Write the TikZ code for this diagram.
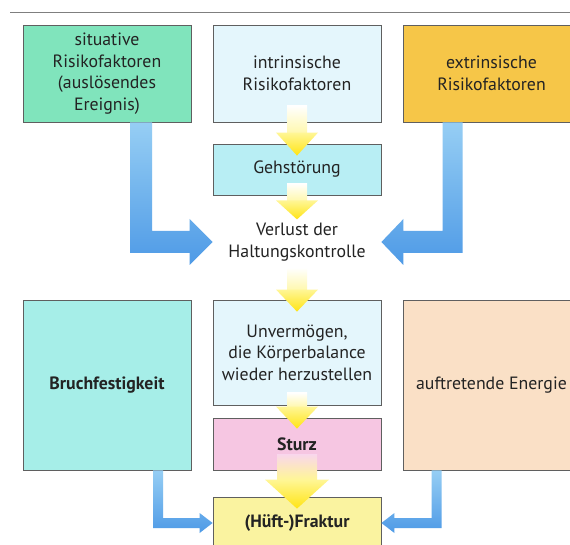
\documentclass[tikz,border=0pt]{standalone}
\usepackage{fontspec}
\setmainfont{PT Sans}
\usetikzlibrary{calc}
\definecolor{boxline}{RGB}{95,95,95}
\definecolor{txt}{RGB}{35,35,35}
\definecolor{sitgreen}{RGB}{128,228,188}
\definecolor{intrblue}{RGB}{228,246,252}
\definecolor{extrorange}{RGB}{246,198,72}
\definecolor{gehcyan}{RGB}{184,238,244}
\definecolor{bruchcyan}{RGB}{166,238,232}
\definecolor{sturzpink}{RGB}{246,198,226}
\definecolor{energiepeach}{RGB}{250,224,198}
\definecolor{frakyellow}{RGB}{250,243,160}
\definecolor{blault}{RGB}{150,206,244}
\definecolor{blaudk}{RGB}{78,154,230}
\definecolor{gelblt}{RGB}{255,246,150}
\definecolor{gelbdk}{RGB}{255,228,20}
\definecolor{gelbschaft}{RGB}{255,248,175}
\tikzstyle{bx}=[draw=boxline,line width=.8pt,inner sep=0pt,align=center,text=txt,font=\fontsize{17.8}{21.5}\selectfont]
\tikzstyle{lbl}=[inner sep=0pt,align=center,text=txt,font=\fontsize{17.8}{21.5}\selectfont]
\tikzstyle{fett}=[font=\fontsize{17.8}{21.5}\selectfont\bfseries]
\tikzstyle{blaupfeil}=[top color=blault,bottom color=blaudk]
\tikzstyle{gelbkopf}=[top color=gelblt,bottom color=gelbdk]
\tikzstyle{gelbhals}=[top color=white,bottom color=gelbschaft]

\begin{document}
\begin{tikzpicture}[x=1pt,y=-1pt]
\useasboundingbox (0,0) rectangle (570,545);
\clip (0,0) rectangle (570,545);
\fill[white] (0,0) rectangle (570,545);
\draw[boxline!80,line width=1pt] (10,13) -- (570,13);
% obere Reihe
\node[bx,fill=sitgreen,minimum width=168,minimum height=97] (sit) at (107,73.5) {situative\\Risikofaktoren\\(auslösendes\\Ereignis)};
\node[bx,fill=intrblue,minimum width=168,minimum height=97] (intr) at (297,73.5) {intrinsische\\Risikofaktoren};
\node[bx,fill=extrorange,minimum width=177,minimum height=97] (extr) at (491.5,73.5) {extrinsische\\Risikofaktoren};
\node[bx,fill=gehcyan,minimum width=168,minimum height=51] (gehst) at (297,169.5) {Gehstörung};
\node[lbl] (verlust) at (297,242) {Verlust der\\Haltungskontrolle};
% untere Reihe
\node[bx,fett,fill=bruchcyan,minimum width=168,minimum height=170] (bruch) at (107,385) {Bruchfestigkeit};
\node[bx,fill=intrblue,minimum width=168,minimum height=105] (unv) at (297,352.5) {Unvermögen,\\die Körperbalance\\wieder herzustellen};
\node[bx,fill=energiepeach,minimum width=177,minimum height=170] (energie) at (491.5,385) {auftretende Energie};
\node[bx,fett,fill=sturzpink,minimum width=168,minimum height=52] (sturz) at (297,444) {Sturz};
\node[bx,fett,fill=frakyellow,minimum width=168,minimum height=52] (frak) at (297,523) {(Hüft-)Fraktur};
% blaue Pfeile
\coordinate (s1) at ($(sit.south)+(34,0)$);
\coordinate (t1) at (gehst.west |- verlust);
\shade[blaupfeil] ($(s1)+(-11,0)$) -- ($(s1)+(11,0)$) |- ($(t1)+(-23,-11)$) -- ++(0,-12) -- (t1) -- ++(-23,23) -- ++(0,-12) -| ($(s1)+(-11,0)$) -- cycle;
\coordinate (s2) at ($(extr.south west)+(50,0)$);
\coordinate (t2) at (gehst.east |- verlust);
\shade[blaupfeil] ($(s2)+(10,0)$) -- ($(s2)+(-10,0)$) |- ($(t2)+(22,-11)$) -- ++(0,-12) -- (t2) -- ++(22,23) -- ++(0,-12) -| ($(s2)+(10,0)$) -- cycle;
\coordinate (s3) at ($(bruch.south)+(51,0)$);
\shade[blaupfeil] ($(s3)+(-5,0)$) -- ($(s3)+(5,0)$) |- ($(frak.west)+(-13,-5)$) -- ++(0,-5) -- (frak.west) -- ++(-13,10) -- ++(0,-5) -| ($(s3)+(-5,0)$) -- cycle;
\coordinate (s4) at ($(energie.south west)+(34,0)$);
\shade[blaupfeil] ($(s4)+(5,0)$) -- ($(s4)+(-5,0)$) |- ($(frak.east)+(13,-5)$) -- ++(0,-5) -- (frak.east) -- ++(13,10) -- ++(0,-5) -| ($(s4)+(5,0)$) -- cycle;
% gelbe Pfeile
\coordinate (y1) at ($(gehst.north)+(0,12)$);
\shade[gelbhals] ($(y1)+(-10,-23)$) rectangle ($(y1)+(10,-50)$);
\shade[gelbkopf] ($(y1)+(-21,-23)$) -- ($(y1)+(21,-23)$) -- (y1) -- cycle;
\coordinate (y2) at ($(gehst.south)+(0,24)$);
\shade[gelbhals] ($(y2)+(-10,-19)$) rectangle ($(y2)+(10,-36)$);
\shade[gelbkopf] ($(y2)+(-21,-19)$) -- ($(y2)+(21,-19)$) -- (y2) -- cycle;
\coordinate (y3) at ($(unv.north)+(0,12)$);
\shade[gelbhals] ($(y3)+(-10,-22)$) rectangle ($(y3)+(10,-44)$);
\shade[gelbkopf] ($(y3)+(-21,-22)$) -- ($(y3)+(21,-22)$) -- (y3) -- cycle;
\coordinate (y4) at ($(sturz.north)+(0,11)$);
\shade[gelbhals] ($(y4)+(-10,-22)$) rectangle ($(y4)+(10,-36)$);
\shade[gelbkopf] ($(y4)+(-21,-22)$) -- ($(y4)+(21,-22)$) -- (y4) -- cycle;
\coordinate (y5) at ($(frak.north)+(0,12)$);
\shade[top color=sturzpink!70!white,bottom color=gelblt] ($(y5)+(-20,-29)$) rectangle ($(y5)+(20,-54)$);
\shade[gelbkopf] ($(y5)+(-32,-29)$) -- ($(y5)+(32,-29)$) -- (y5) -- cycle;
\end{tikzpicture}
\end{document}
